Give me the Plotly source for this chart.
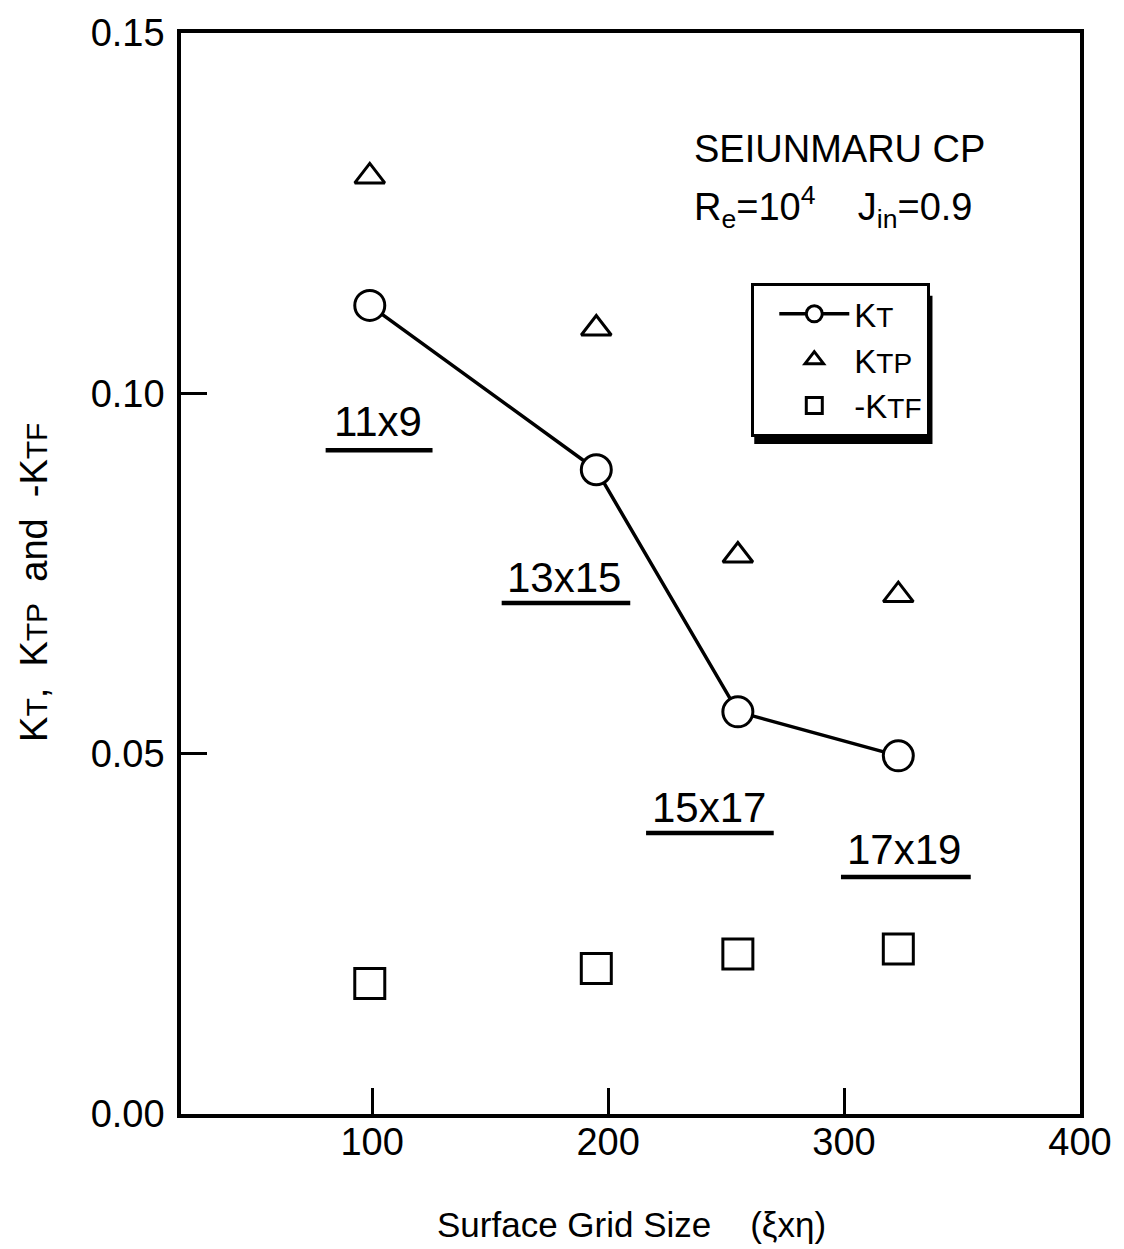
import plotly.graph_objects as go

# ---- data ----
grid_labels = ["11x9", "13x15", "15x17", "17x19"]
grid_size = [99, 195, 255, 323]
kt = [0.1122, 0.0894, 0.0558, 0.0497]
ktp = [0.1301, 0.1090, 0.0775, 0.0720]
ktf = [0.0181, 0.0202, 0.0222, 0.0229]

x_ticks = [100, 200, 300, 400]
y_ticks = [0.00, 0.05, 0.10, 0.15]

# label placement (text centre, underline extents) in data units
label_x = [102.5, 181.3, 242.6, 325.2]
label_y = [0.0961, 0.0744, 0.0425, 0.0367]
line_x0 = [80.3, 154.9, 216.1, 298.7]
line_x1 = [125.6, 209.4, 270.2, 353.7]
line_y = [0.0921, 0.0709, 0.0390, 0.0329]

FONT = "Liberation Sans, Arial, sans-serif"

# plot area geometry in pixels (for paper-coordinate placement)
L, R, T, B = 181, 1089, 28, 1114


def px_x(p):
    return (p - L) / (R - L)


def px_y(p):
    return (B - p) / (B - T)


def sub(t, size):
    return "<span style='font-size:%dpx'>%s</span>" % (size, t)


fig = go.Figure()
fig.add_trace(go.Scatter(
    x=grid_size, y=kt, mode="lines+markers",
    name="K" + sub("T", 28),
    line=dict(color="black", width=3.5),
    marker=dict(symbol="circle", size=30, color="white",
                line=dict(color="black", width=3)),
))
fig.add_trace(go.Scatter(
    x=grid_size, y=ktp, mode="markers",
    name="K" + sub("TP", 28),
    marker=dict(symbol="triangle-up", size=26, color="white",
                line=dict(color="black", width=3)),
))
fig.add_trace(go.Scatter(
    x=grid_size, y=ktf, mode="markers",
    name="-K" + sub("TF", 28),
    marker=dict(symbol="square", size=30, color="white",
                line=dict(color="black", width=3)),
))

for lab, lx, ly, x0, x1, yy in zip(grid_labels, label_x, label_y, line_x0, line_x1, line_y):
    fig.add_annotation(x=lx, y=ly, xref="x", yref="y", text=lab, showarrow=False,
                       font=dict(size=42, color="black", family=FONT),
                       xanchor="center", yanchor="middle")
    fig.add_shape(type="line", x0=x0, x1=x1, y0=yy, y1=yy, xref="x", yref="y",
                  line=dict(color="black", width=4.5))

fig.add_annotation(x=px_x(697), y=px_y(145), xref="paper", yref="paper",
                   text="SEIUNMARU CP", showarrow=False,
                   font=dict(size=38, color="black", family=FONT),
                   xanchor="left", yanchor="middle")
fig.add_annotation(x=px_x(697), y=px_y(203), xref="paper", yref="paper",
                   text="R<sub>e</sub>=10<sup>4</sup>    J<sub>in</sub>=0.9",
                   showarrow=False,
                   font=dict(size=38, color="black", family=FONT),
                   xanchor="left", yanchor="middle")

# axis titles
fig.add_annotation(x=px_x(33), y=px_y(580), xref="paper", yref="paper",
                   text="K" + sub("T", 30) + ",  K" + sub("TP", 30) +
                        "  and  -K" + sub("TF", 30),
                   textangle=-90, showarrow=False,
                   font=dict(size=38, color="black", family=FONT),
                   xanchor="center", yanchor="middle")
fig.add_annotation(x=px_x(636), y=px_y(1225), xref="paper", yref="paper",
                   text="Surface Grid Size    (ξxη)", showarrow=False,
                   font=dict(size=35, color="black", family=FONT),
                   xanchor="center", yanchor="middle")

# legend drop shadow (thicker right/bottom edge)
fig.add_shape(type="rect", xref="paper", yref="paper",
              x0=px_x(760), x1=px_x(940), y0=px_y(441), y1=px_y(292),
              fillcolor="black", line=dict(width=0), layer="above")

fig.update_layout(
    width=1124, height=1249,
    margin=dict(l=L, r=1124 - R, t=T, b=1249 - B),
    paper_bgcolor="white", plot_bgcolor="white",
    font=dict(family=FONT, color="black"),
    showlegend=True,
    legend=dict(x=px_x(757), y=px_y(279), xanchor="left", yanchor="top",
                bgcolor="white", bordercolor="black", borderwidth=3,
                font=dict(size=33, color="black", family=FONT),
                itemwidth=70, indentation=20),
    xaxis=dict(range=[19, 400], tickvals=x_ticks, ticks="inside", ticklen=26,
               tickwidth=3, tickcolor="black", showline=True, linecolor="black",
               linewidth=3.5, mirror=True, showgrid=False, zeroline=False,
               ticklabelstandoff=-8,
               tickfont=dict(size=38, color="black", family=FONT)),
    yaxis=dict(range=[0, 0.15], tickvals=y_ticks, tickformat=".2f",
               ticks="inside", ticklen=26, tickwidth=3, tickcolor="black",
               showline=True, linecolor="black", linewidth=3.5, mirror=True,
               showgrid=False, zeroline=False, ticklabelstandoff=5,
               tickfont=dict(size=38, color="black", family=FONT)),
)

fig.write_html("out.html")
